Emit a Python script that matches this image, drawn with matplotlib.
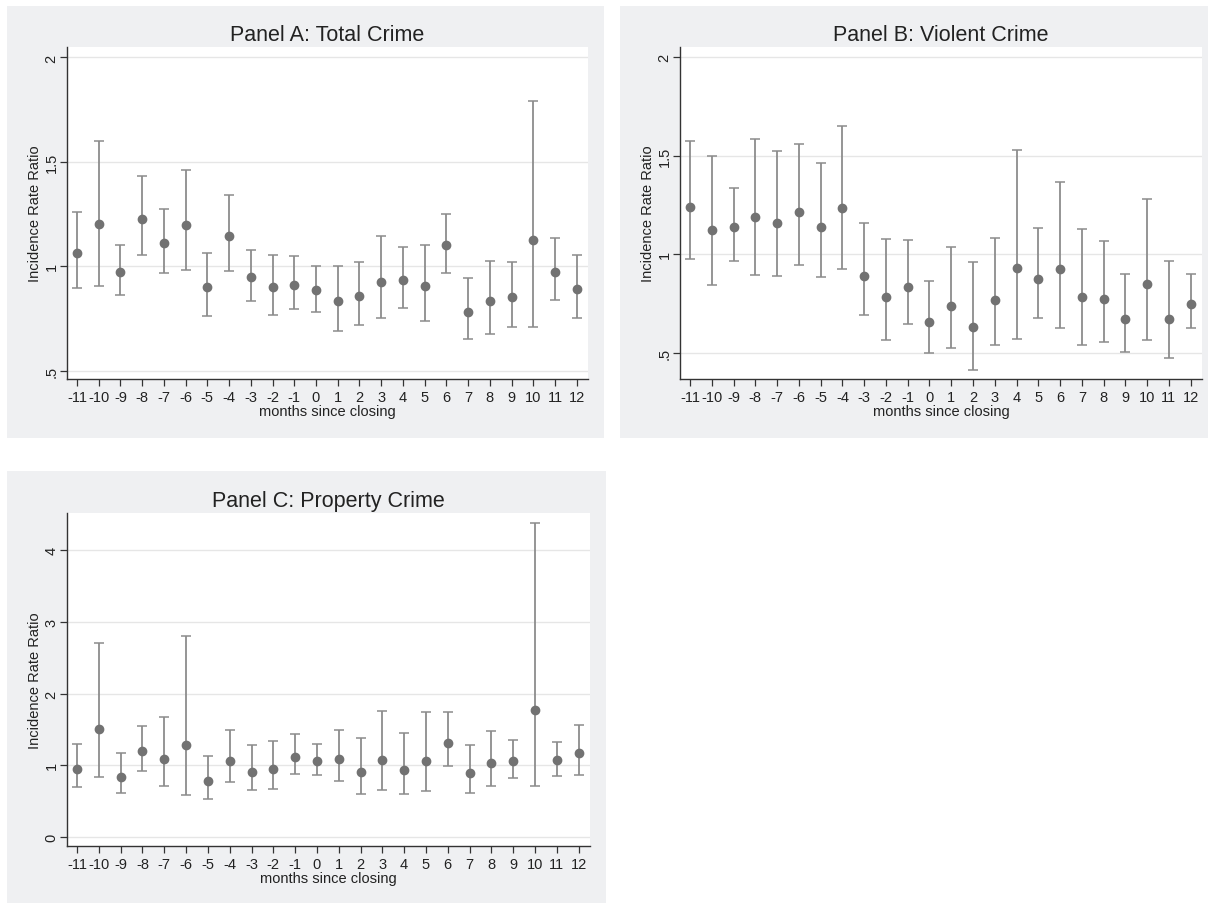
import matplotlib
matplotlib.use("Agg")
from matplotlib import pyplot as plt
from matplotlib.patches import Rectangle
import numpy as np

plt.rcParams['font.family'] = ['Liberation Sans', 'DejaVu Sans']

months = list(range(-11, 13))

# Panel A: total crime (IRR, lower CI, upper CI)
total_irr = [1.062, 1.203, 0.974, 1.227, 1.113, 1.196, 0.901, 1.147, 0.947, 0.901, 0.912, 0.885,
             0.834, 0.856, 0.925, 0.935, 0.904, 1.101, 0.783, 0.835, 0.855, 1.128, 0.973, 0.893]
total_lo = [0.895, 0.904, 0.861, 1.054, 0.968, 0.984, 0.762, 0.979, 0.832, 0.767, 0.796, 0.780,
            0.690, 0.719, 0.751, 0.799, 0.738, 0.966, 0.650, 0.677, 0.708, 0.708, 0.837, 0.754]
total_hi = [1.259, 1.602, 1.104, 1.430, 1.273, 1.460, 1.064, 1.339, 1.078, 1.056, 1.048, 1.003,
            1.003, 1.018, 1.144, 1.094, 1.102, 1.251, 0.942, 1.027, 1.022, 1.789, 1.133, 1.056]

# Panel B: violent crime
violent_irr = [1.240, 1.122, 1.139, 1.189, 1.159, 1.215, 1.137, 1.235, 0.893, 0.784, 0.836, 0.658,
               0.740, 0.630, 0.767, 0.931, 0.873, 0.927, 0.785, 0.772, 0.672, 0.848, 0.675, 0.750]
violent_lo = [0.975, 0.844, 0.966, 0.895, 0.890, 0.944, 0.883, 0.926, 0.692, 0.567, 0.647, 0.501,
              0.528, 0.413, 0.542, 0.569, 0.677, 0.628, 0.542, 0.557, 0.504, 0.564, 0.476, 0.628]
violent_hi = [1.573, 1.496, 1.338, 1.583, 1.521, 1.558, 1.462, 1.651, 1.157, 1.078, 1.074, 0.863,
              1.037, 0.959, 1.083, 1.528, 1.132, 1.364, 1.130, 1.066, 0.899, 1.281, 0.964, 0.899]

# Panel C: property crime
property_irr = [0.952, 1.501, 0.841, 1.194, 1.087, 1.278, 0.776, 1.064, 0.911, 0.943, 1.115, 1.059,
                1.082, 0.906, 1.073, 0.929, 1.059, 1.310, 0.892, 1.027, 1.059, 1.770, 1.069, 1.166]
property_lo = [0.697, 0.836, 0.613, 0.925, 0.715, 0.581, 0.534, 0.762, 0.650, 0.669, 0.878, 0.869,
               0.776, 0.599, 0.650, 0.599, 0.636, 0.985, 0.613, 0.711, 0.822, 0.711, 0.850, 0.869]
property_hi = [1.301, 2.704, 1.171, 1.552, 1.668, 2.806, 1.134, 1.496, 1.282, 1.338, 1.431, 1.292,
               1.496, 1.375, 1.756, 1.449, 1.742, 1.742, 1.287, 1.482, 1.352, 4.376, 1.329, 1.566]

W, H = 1208, 904
BG = '#eff0f2'

fig = plt.figure(figsize=(W / 100, H / 100), dpi=100)
fig.patch.set_facecolor('white')


def px_box(x0, y0, x1, y1):
    # pixel box (top-left origin) -> figure fraction [left, bottom, width, height]
    return [x0 / W, 1 - y1 / H, (x1 - x0) / W, (y1 - y0) / H]


def panel(bg, box, title, irr, lo, hi, ylim, yticks, yticklabels):
    l, b, w, h = px_box(*bg)
    fig.patches.append(Rectangle((l, b), w, h, transform=fig.transFigure,
                                 facecolor=BG, edgecolor='none', zorder=-5))
    ax = fig.add_axes(px_box(*box))
    ax.set_facecolor('white')
    irr = np.array(irr)
    err = [irr - np.array(lo), np.array(hi) - irr]
    ax.errorbar(months, irr, yerr=err, fmt='none', ecolor='#8c8c8c',
                elinewidth=1.3, capsize=3.5, capthick=1.1, zorder=2)
    ax.plot(months, irr, 'o', color='#727272', markersize=6, zorder=3)
    ax.set_xlim(-11.46, 12.52)
    ax.set_ylim(*ylim)
    ax.set_xticks(months)
    ax.set_xticklabels([str(m) for m in months], fontsize=10.5, color='#222222')
    ax.set_yticks(yticks)
    ax.set_yticklabels(yticklabels, fontsize=10.5, color='#222222', rotation=90, va='center')
    ax.yaxis.grid(True, color='#e6e6e6', linewidth=1)
    ax.set_axisbelow(True)
    for s in ['top', 'right']:
        ax.spines[s].set_visible(False)
    for s in ['left', 'bottom']:
        ax.spines[s].set_color('#333333')
        ax.spines[s].set_linewidth(1)
    ax.tick_params(axis='both', length=5, width=0.9, color='#333333', pad=3)
    ax.tick_params(axis='y', pad=1)
    ax.set_xlabel('months since closing', fontsize=10.5, color='#222222', labelpad=0)
    ax.set_ylabel('Incidence Rate Ratio', fontsize=10.5, color='#222222', labelpad=2)
    ax.set_title(title, fontsize=15.5, color='#222222', pad=5)
    return ax


panel((7, 7, 604, 439), (67, 48, 588, 380), 'Panel A: Total Crime',
      total_irr, total_lo, total_hi, (0.46, 2.05), [0.5, 1, 1.5, 2], ['.5', '1', '1.5', '2'])
panel((620, 7, 1208, 439), (680, 48, 1202, 380), 'Panel B: Violent Crime',
      violent_irr, violent_lo, violent_hi, (0.369, 2.05), [0.5, 1, 1.5, 2], ['.5', '1', '1.5', '2'])
panel((7, 472, 606, 904), (67, 514, 590, 847), 'Panel C: Property Crime',
      property_irr, property_lo, property_hi, (-0.125, 4.52), [0, 1, 2, 3, 4],
      ['0', '1', '2', '3', '4'])

fig.savefig('out.png', dpi=100, facecolor='white')
